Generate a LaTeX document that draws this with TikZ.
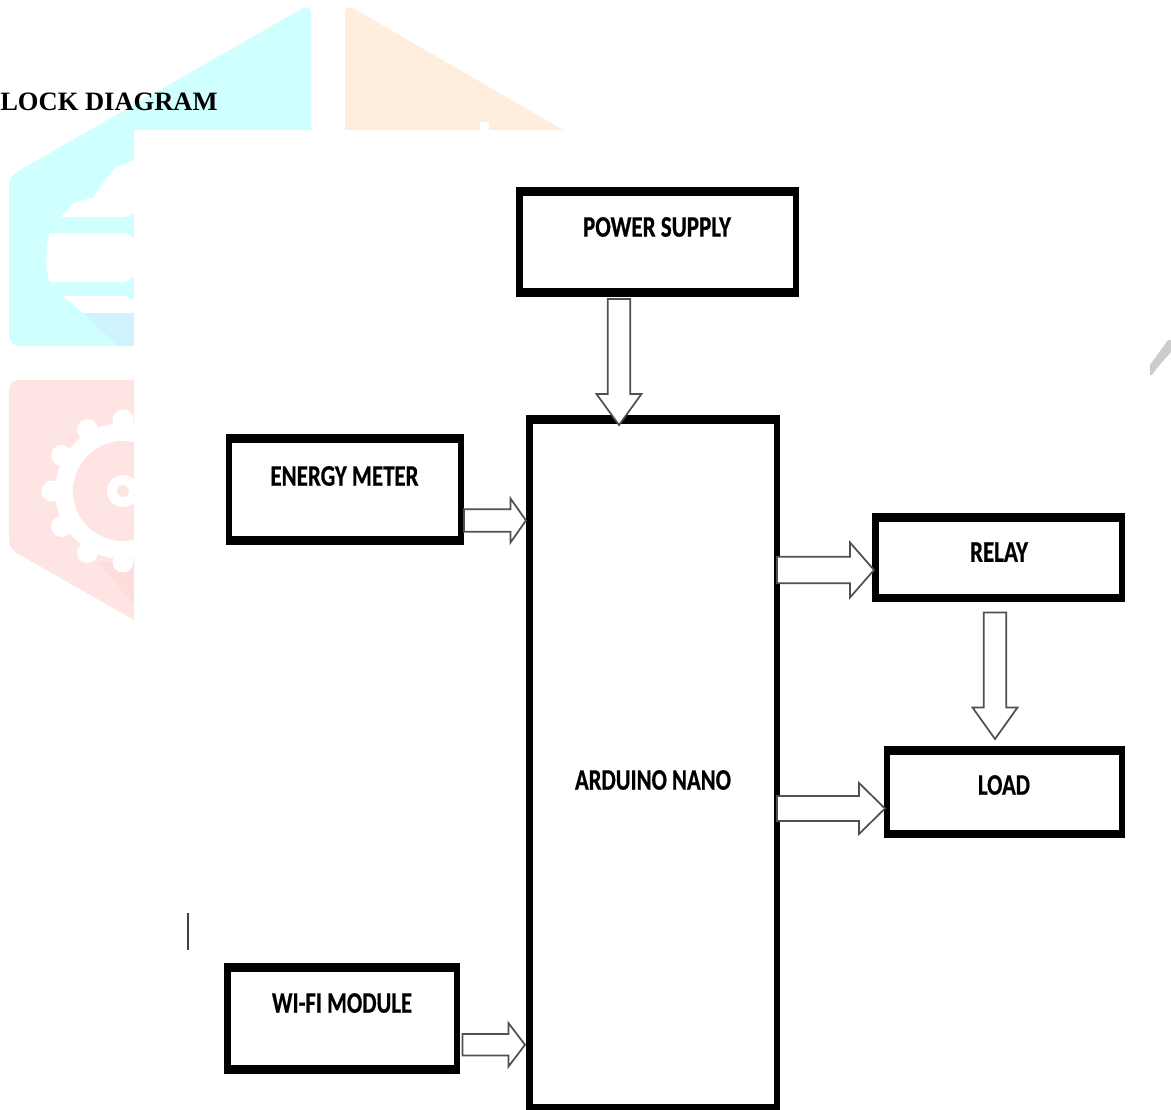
\documentclass[tikz,border=0pt]{standalone}
\usepackage{graphicx}
\usepackage{fontspec}
\usetikzlibrary{calc,fit}
\setmainfont{Liberation Serif}
\newfontfamily\labelfont{Carlito}[BoldFeatures={FakeBold=0.7}]
\newdimen\pxu \pxu=0.75pt
\definecolor{wmcyan}{HTML}{CFFFFF}
\definecolor{wmcyandark}{HTML}{CFF3FF}
\definecolor{wmorange}{HTML}{FFEEDD}
\definecolor{wmpink}{HTML}{FEE4E3}
\definecolor{wmpinkdark}{HTML}{FEDDDD}
\definecolor{arrowedge}{HTML}{505050}
\tikzset{
  outerbox/.style={fill=black,draw=none,inner sep=0pt,outer sep=0pt},
  innerbox/.style={fill=white,draw=none,inner sep=0pt,outer sep=0pt},
  blockarrow/.style={draw=arrowedge,fill=white,line width=1.3pt,line join=miter},
  boxlabel/.style={inner sep=0pt,outer sep=0pt,text=black,font=\labelfont\bfseries},
  wm/.style={draw=none}
}
% name, x1,y1,x2,y2 of the outer edge
\newcommand\blockbox[5]{%
  \node[outerbox,fit={(#2,#3) (#4,#5)}] (#1) {};
  \node[innerbox,fit={($(#2,#3)+(6.5,8.5)$) ($(#4,#5)+(-6.5,-8.5)$)}] (#1in) {};
}
% from, to, start offset, tip offset, y centre, half shaft, half head, head length
\newcommand\harrow[8]{%
  \coordinate (S) at ($(#1.east |- 0,#5)+(#3,0)$);
  \coordinate (T) at ($(#2.west |- 0,#5)+(#4,0)$);
  \draw[blockarrow] ($(S)+(0,-#6)$) -- ($(T)+(-#8,-#6)$) -- ($(T)+(-#8,-#7)$) -- (T)
    -- ($(T)+(-#8,#7)$) -- ($(T)+(-#8,#6)$) -- ($(S)+(0,#6)$) -- cycle;
}
% from, to, start offset, tip offset, x centre, half shaft, half head, head length
\newcommand\varrow[8]{%
  \coordinate (S) at ($(#1.south -| #5,0)+(0,#3)$);
  \coordinate (T) at ($(#2.north -| #5,0)+(0,#4)$);
  \draw[blockarrow] ($(S)+(-#6,0)$) -- ($(T)+(-#6,-#8)$) -- ($(T)+(-#7,-#8)$) -- (T)
    -- ($(T)+(#7,-#8)$) -- ($(T)+(#6,-#8)$) -- ($(S)+(#6,0)$) -- cycle;
}
\begin{document}
\begin{tikzpicture}[x=0.75pt,y=-0.75pt]
\useasboundingbox (0,0) rectangle (1171,1110);
\fill[white] (0,0) rectangle (1171,1110);
% watermark: orange
\fill[wmorange] (345,12) .. controls (345,8) and (349,6) .. (353,8) -- (563,130) -- (345,130) -- cycle;
\fill[white] (480,130) -- (480,122) -- (489,122) -- (489,130) -- cycle;
% watermark: cyan
\fill[wmcyan] (311,12) .. controls (311,8) and (307,6) .. (303,8) -- (20,170)
  .. controls (13,174) and (9,178) .. (9,186) -- (9,335)
  .. controls (9,342) and (14,346) .. (20,346) -- (134,346) -- (134,130) -- (311,130) -- cycle;
\fill[wmcyandark] (83,313) -- (134,313) -- (134,346) -- (118,346) -- cycle;
\fill[white] (134,160) -- (115,168) -- (105,180) -- (92,198) -- (75,202) -- (60,217)
  -- (125,217) -- (134,213) -- cycle;
\fill[white] (134,238) -- (125,233) -- (50,233) .. controls (46,245) and (44,268) .. (50,282)
  -- (125,282) -- (134,276) -- cycle;
\fill[white] (63,296) -- (125,296) -- (134,301) -- (134,313) -- (83,313) -- cycle;
% watermark: pink
\fill[wmpink] (9,391) .. controls (9,384) and (13,380) .. (20,380) -- (134,380) -- (134,620)
  -- (20,555) .. controls (13,551) and (9,547) .. (9,541) -- cycle;
\fill[wmpinkdark] (98,562) -- (134,562) -- (134,605) -- cycle;
\begin{scope}
  \clip (0,375) rectangle (134,625);
  \fill[white] (123,491) circle[radius=68];
  \foreach \a in {0,30,...,330} {
    \fill[white] ($(123,491)+(\a:71)$) circle[radius=10.5];
  }
  \fill[wmpink] (123,491) circle[radius=50];
  \fill[white] (123,491) circle[radius=16];
  \fill[wmpink] (123,491) circle[radius=6];
\end{scope}
% white sheet on the watermark
\fill[white] (134,130) rectangle (1171,1110);
\fill[white] (563,0) rectangle (1171,130);
% watermark: grey mark at the right edge
\fill[black!20] (1150,365) -- (1168,340) -- (1171,340) -- (1171,352) -- (1157,368) -- (1152,375) -- (1150,375) -- cycle;
% title
\node[anchor=base west,inner sep=0pt,font=\bfseries\fontsize{19.9pt}{24pt}\selectfont,text=black] (title) at (0,110) {LOCK DIAGRAM};
% stray bar
\draw[black!75,line width=0.9pt] (188,913) -- (188,950);
% boxes
\blockbox{power}{516}{187}{799}{296.5}
\blockbox{energy}{225.5}{434}{464}{544.5}
\blockbox{arduino}{526}{415}{780}{1112}
\blockbox{relay}{872}{513}{1125}{602}
\blockbox{load}{883.5}{746}{1125}{838}
\blockbox{wifi}{224}{963}{460}{1073.5}
% labels
\node[boxlabel] (powertext) at (657,227) {\resizebox{148\pxu}{19.5\pxu}{POWER SUPPLY}};
\node[boxlabel] (energytext) at (344.5,476) {\resizebox{148\pxu}{19.5\pxu}{ENERGY METER}};
\node[boxlabel] (arduinotext) at (653,780) {\resizebox{156\pxu}{19.5\pxu}{ARDUINO NANO}};
\node[boxlabel] (relaytext) at (999,552) {\resizebox{58\pxu}{19.5\pxu}{RELAY}};
\node[boxlabel] (loadtext) at (1004,785) {\resizebox{52\pxu}{19.5\pxu}{LOAD}};
\node[boxlabel] (wifitext) at (342,1003) {\resizebox{140\pxu}{19.5\pxu}{WI-FI MODULE}};
% connectors
\varrow{power}{arduino}{2.5}{10}{619}{11.3}{22.5}{31}
\harrow{energy}{arduino}{0}{0}{520.5}{11.2}{22}{15.5}
\harrow{arduino}{relay}{-3}{2}{570}{13.3}{27.5}{24}
\varrow{relay}{load}{10.5}{-7}{995}{11.3}{22.5}{31.5}
\harrow{arduino}{load}{-3}{1.5}{808.5}{12.5}{25.5}{26}
\harrow{wifi}{arduino}{2.5}{-1}{1044.8}{10.8}{21.7}{16.5}
\end{tikzpicture}
\end{document}
